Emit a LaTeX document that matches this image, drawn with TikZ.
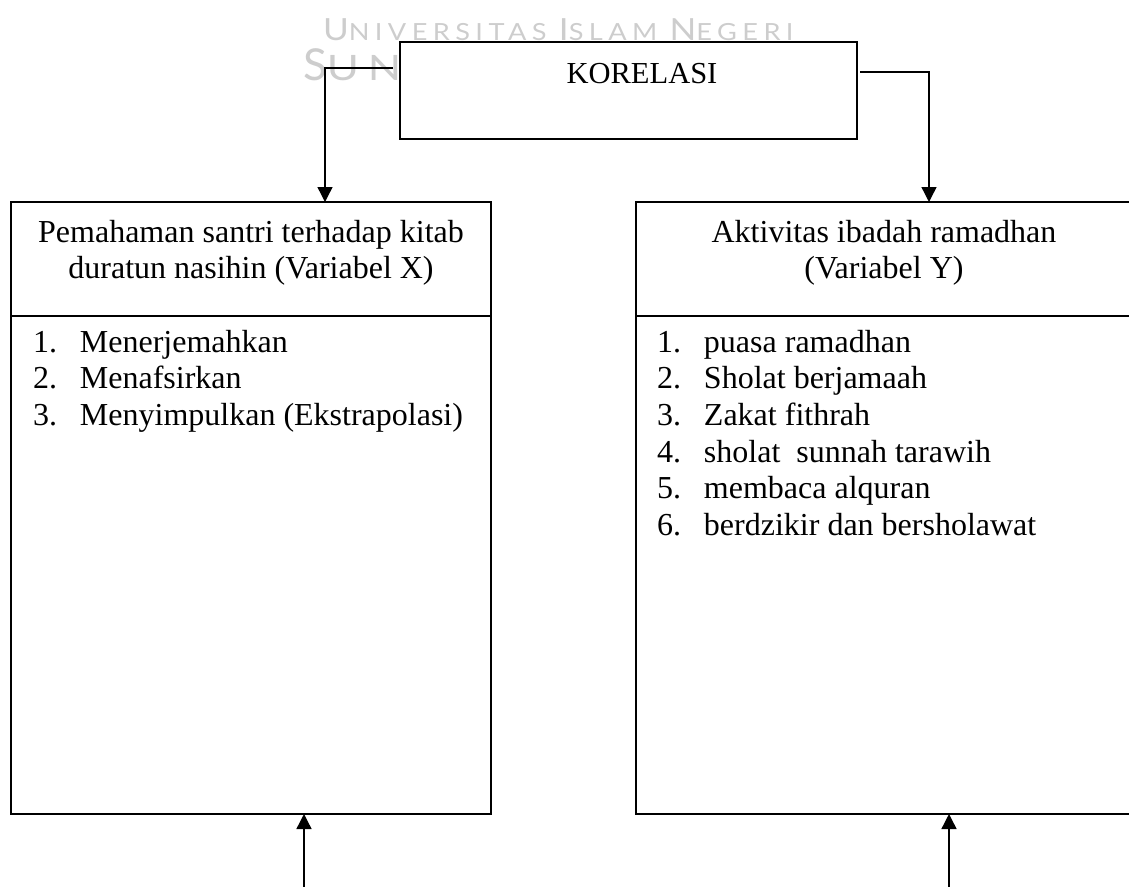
\documentclass[tikz,border=0pt]{standalone}
\usepackage{fontspec}
\setmainfont{Liberation Serif}
\newfontfamily\wmfont[LetterSpace=20]{Lato}
\usetikzlibrary{arrows.meta,calc}
\definecolor{wmgray}{RGB}{205,205,205}
\tikzset{
  box/.style={draw=black, line width=1.6pt, fill=white, rectangle, inner sep=0pt, outer sep=0pt},
  txt/.style={inner sep=0pt, outer sep=0pt, font=\fontsize{32}{36.7}\selectfont},
  ktxt/.style={inner sep=0pt, outer sep=0pt, font=\fontsize{30.5}{36.7}\selectfont},
  wm/.style={inner sep=0pt, outer sep=0pt, text=wmgray, font=\wmfont},
  arr/.style={draw=black, line width=1.4pt, -{Triangle[width=15pt,length=15pt]}}
}
\newcommand{\wmA}[1]{{\fontsize{30.5}{34}\selectfont #1}}
\newcommand{\wmB}[1]{{\fontsize{23.6}{34}\selectfont #1}}
\newcommand{\wmC}[1]{{\fontsize{44}{48}\selectfont #1}}
\newcommand{\wmD}[1]{{\fontsize{35}{48}\selectfont #1}}
\begin{document}
\begin{tikzpicture}[x=1pt,y=-1pt]
\useasboundingbox (0,0) rectangle (1129,886);
\clip (0,0) rectangle (1129,886);
% watermark
\node[wm, anchor=base west] (wm1) at (323,40) {\scalebox{1.15}[1]{\wmA{U}\wmB{NIVERSITAS\ }\wmA{I}\wmB{SLAM\ }\wmA{N}\wmB{EGERI}}};
\node[wm, anchor=base west] (wm2) at (303,80) {\wmC{S}\scalebox{1.25}[1]{\wmD{UNAN}}};
% KORELASI box
\node[box, anchor=north west, minimum width=457pt, minimum height=97pt] (K) at (400,42) {};
\node[ktxt, anchor=base] (kt) at (642,83) {KORELASI};
% left box
\node[box, anchor=north west, minimum width=480pt, minimum height=114pt] (XT) at (11,202) {};
\node[box, anchor=north west, minimum width=480pt, minimum height=498pt] (XL) at (11,316) {};
\node[txt, anchor=base] (xt) at (251,242) {\begin{tabular}[t]{@{}c@{}}Pemahaman santri terhadap kitab\\ duratun nasihin (Variabel X)\end{tabular}};
\node[txt, anchor=base west] (xl) at (33,352) {\begin{tabular}[t]{@{}l@{\hspace{23pt}}l@{}}1.&Menerjemahkan\\ 2.&Menafsirkan\\ 3.&Menyimpulkan (Ekstrapolasi)\end{tabular}};
% right box
\node[box, anchor=north west, minimum width=496pt, minimum height=114pt] (YT) at (636,202) {};
\node[box, anchor=north west, minimum width=496pt, minimum height=498pt] (YL) at (636,316) {};
\node[txt, anchor=base] (yt) at (884,242) {\begin{tabular}[t]{@{}c@{}}Aktivitas ibadah ramadhan\\ (Variabel Y)\end{tabular}};
\node[txt, anchor=base west] (yl) at (657,352) {\begin{tabular}[t]{@{}l@{\hspace{23pt}}l@{}}1.&puasa ramadhan\\ 2.&Sholat berjamaah\\ 3.&Zakat fithrah\\ 4.&sholat\ \ sunnah tarawih\\ 5.&membaca alquran\\ 6.&berdzikir dan bersholawat\end{tabular}};
% connectors
\draw[arr] ([shift={(-7pt,22.5pt)}]K.west) -| ([xshift=314pt]XT.north west);
\draw[arr] ([shift={(3pt,18.5pt)}]K.east) -| ([xshift=293pt]YT.north west);
\coordinate (bx) at (304,890);
\coordinate (by) at (949,890);
\draw[arr] (bx) -- (bx |- XL.south);
\draw[arr] (by) -- (by |- YL.south);
\end{tikzpicture}
\end{document}
